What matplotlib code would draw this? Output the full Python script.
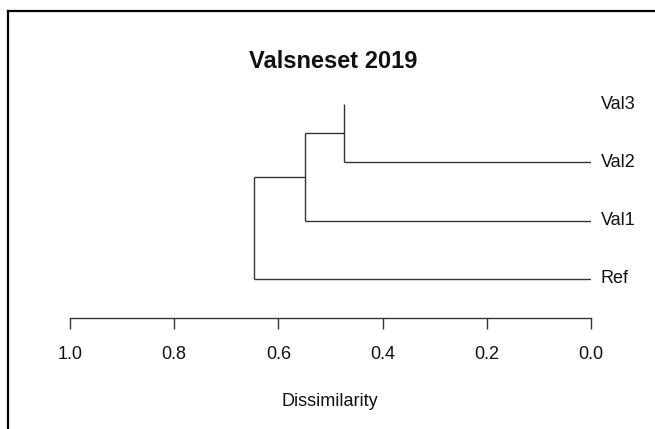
import matplotlib
matplotlib.use("Agg")
import matplotlib.pyplot as plt
from matplotlib.lines import Line2D

plt.rcParams['font.family'] = ['Liberation Sans', 'DejaVu Sans']

# leaves from bottom to top
leaves = ['Ref', 'Val1', 'Val2', 'Val3']
leaf_pos = [1, 2, 3, 4]
# merges: (left child, right child, height); children are leaf names or merge index
merges = [('Val2', 'Val3', 0.475),
          ('Val1', 0, 0.548),
          ('Ref', 1, 0.647)]
# Val3 has no leaf line in the original picture
leaf_line = {'Ref': True, 'Val1': True, 'Val2': True, 'Val3': False}

ticks = [1.0, 0.8, 0.6, 0.4, 0.2, 0.0]
title = 'Valsneset 2019'
xlabel = 'Dissimilarity'

W, H = 655, 429
fig = plt.figure(figsize=(W / 100, H / 100), dpi=100)

# axes placed in pixels: x 1.0 -> 70px, 0.0 -> 591px, axis line at y=318
ax_left, ax_right = 70, 591
ax_bottom_px, ax_top_px = 318.3, 74.9
ax = fig.add_axes([ax_left / W, (H - ax_bottom_px) / H,
                   (ax_right - ax_left) / W, (ax_bottom_px - ax_top_px) / H])
ax.set_xlim(1.0, 0.0)
ax.set_ylim(0.326, 4.5)

line_col = '#333333'
pos = dict(zip(leaves, leaf_pos))
node_y = []
node_h = []


def child_coord(c):
    if isinstance(c, str):
        return pos[c], 0.0
    return node_y[c], node_h[c]


for a, b, h in merges:
    ya, ha = child_coord(a)
    yb, hb = child_coord(b)
    # vertical join
    ax.plot([h, h], [ya, yb], color=line_col, lw=1.0, solid_capstyle='butt')
    # horizontal to children
    for c, y, ch in ((a, ya, ha), (b, yb, hb)):
        if isinstance(c, str) and not leaf_line[c]:
            continue
        ax.plot([h, ch], [y, y], color=line_col, lw=1.0, solid_capstyle='butt')
    node_y.append((ya + yb) / 2)
    node_h.append(h)

for name, y in zip(leaves, leaf_pos):
    ax.annotate(name, (0.0, y), xytext=(7.2, 0), textcoords='offset points',
                ha='left', va='center', fontsize=13, color='#111111',
                annotation_clip=False)

for s in ('top', 'left', 'right'):
    ax.spines[s].set_visible(False)
ax.spines['bottom'].set_color(line_col)
ax.spines['bottom'].set_linewidth(1.0)
ax.set_yticks([])
ax.set_xticks(ticks)
ax.set_xticklabels([f'{t:.1f}' for t in ticks])
ax.tick_params(axis='x', length=7.9, width=1.0, color=line_col, pad=12,
               labelsize=13, labelcolor='#111111')

fig.text(333 / W, 1 - 62 / H, title, ha='center', va='center',
         fontsize=17, fontweight='bold', color='#111111')
fig.text(330 / W, 1 - 401 / H, xlabel, ha='center', va='center',
         fontsize=13, color='#111111')

# frame (left and top edges only visible in the picture)
fig.add_artist(Line2D([8 / W, 8 / W], [0, 1 - 11 / H], color='black', lw=1.6,
                      transform=fig.transFigure, solid_capstyle='projecting'))
fig.add_artist(Line2D([8 / W, 1], [1 - 11 / H, 1 - 11 / H], color='black', lw=1.6,
                      transform=fig.transFigure, solid_capstyle='projecting'))

fig.savefig('out.png', dpi=100)
